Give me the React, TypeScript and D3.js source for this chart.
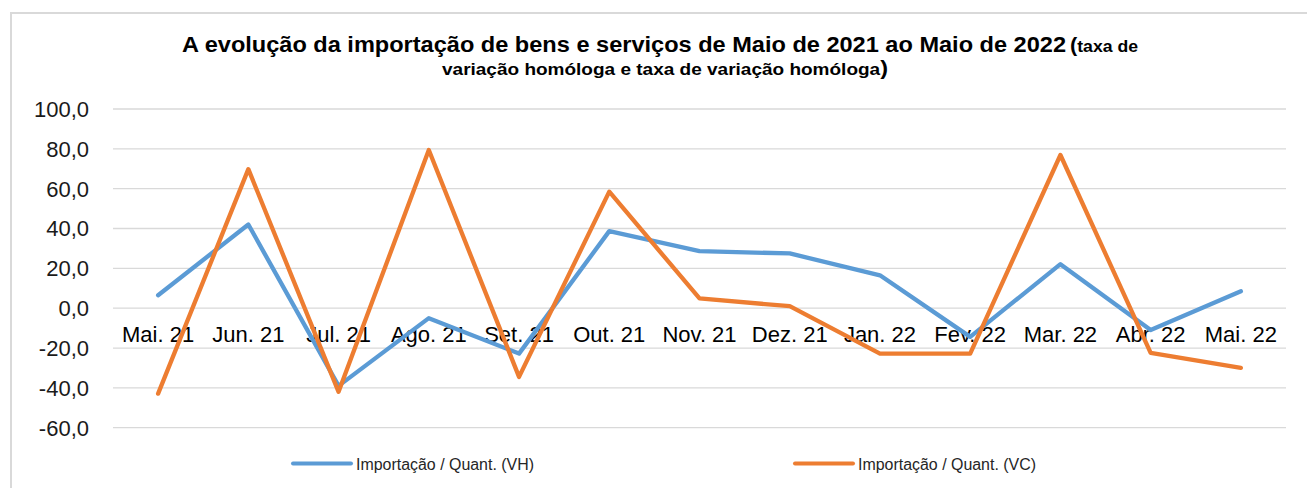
import React from "react";
import * as d3 from "d3";

const months = [
  "Mai. 21", "Jun. 21", "Jul. 21", "Ago. 21", "Set. 21", "Out. 21", "Nov. 21",
  "Dez. 21", "Jan. 22", "Fev. 22", "Mar. 22", "Abr. 22", "Mai. 22",
];
// Importação / Quant. (VH)
const vh = [6.5, 42, -39, -5, -22.8, 38.7, 28.6, 27.5, 16.5, -14.4, 22.1, -11, 8.5];
// Importação / Quant. (VC)
const vc = [-42.9, 69.8, -42, 79.4, -34.5, 58.5, 4.9, 1, -22.8, -22.8, 76.9, -22.4, -30];
const yTicks = [-60, -40, -20, 0, 20, 40, 60, 80, 100];

const seriesNames = ["Importação / Quant. (VH)", "Importação / Quant. (VC)"];
const colors = ["#5B9BD5", "#ED7D31"];

const W = 1307;
const H = 488;
const FONT = "'Liberation Sans', Arial, sans-serif";

export default function App() {
  const x = d3.scaleBand().domain(months).range([113, 1286]);
  const y = d3.scaleLinear().domain([-60, 100]).range([427.7, 109]);
  const cx = (m: string) => (x(m) as number) + x.bandwidth() / 2;

  const line = d3
    .line<number>()
    .x((_, i) => cx(months[i]))
    .y((d) => y(d));

  const fmt = (v: number) => v.toFixed(1).replace(".", ",");

  return (
    <svg
      width={W}
      height={H}
      style={{ position: "absolute", left: 0, top: 0, background: "#fff" }}
      fontFamily={FONT}
    >
      {/* chart area border */}
      <rect x={11} y={13} width={W + 10} height={H + 10} fill="none" stroke="#d9d9d9" strokeWidth={2} />

      {/* title */}
      <text x={182} y={52} fontSize={22} fontWeight="bold" fill="#000" textLength={884} lengthAdjust="spacingAndGlyphs">
        A evolução da importação de bens e serviços de Maio de 2021 ao Maio de 2022
      </text>
      <text x={1070} y={52} fontSize={17} fontWeight="bold" fill="#000" textLength={68} lengthAdjust="spacingAndGlyphs">
        <tspan fontSize={21}>(</tspan>taxa de
      </text>
      <text x={442} y={75} fontSize={17} fontWeight="bold" fill="#000" textLength={446} lengthAdjust="spacingAndGlyphs">
        variação homóloga e taxa de variação homóloga<tspan fontSize={21}>)</tspan>
      </text>

      {/* gridlines */}
      {yTicks.map((t) => (
        <line key={t} x1={113} x2={1286} y1={y(t)} y2={y(t)} stroke="#d9d9d9" strokeWidth={1.3} />
      ))}

      {/* y labels */}
      {yTicks.map((t) => (
        <text key={t} x={89} y={y(t)} dy="0.36em" textAnchor="end" fontSize={22} fill="#1a1a1a">
          {fmt(t)}
        </text>
      ))}

      {/* category labels at zero line */}
      {months.map((m) => (
        <text key={m} x={cx(m)} y={y(0) + 34} textAnchor="middle" fontSize={22} fill="#000">
          {m}
        </text>
      ))}

      {/* lines */}
      {[vh, vc].map((s, i) => (
        <path
          key={i}
          d={line(s) as string}
          fill="none"
          stroke={colors[i]}
          strokeWidth={4.3}
          strokeLinejoin="round"
          strokeLinecap="round"
        />
      ))}

      {/* legend */}
      {seriesNames.map((n, i) => {
        const lx = i === 0 ? 293 : 795;
        return (
          <g key={n}>
            <line x1={lx} x2={lx + 58} y1={463.5} y2={463.5} stroke={colors[i]} strokeWidth={4} strokeLinecap="round" />
            <text x={lx + 63} y={464} dy="0.36em" fontSize={16} fill="#262626" textLength={178} lengthAdjust="spacingAndGlyphs">
              {n}
            </text>
          </g>
        );
      })}
    </svg>
  );
}
